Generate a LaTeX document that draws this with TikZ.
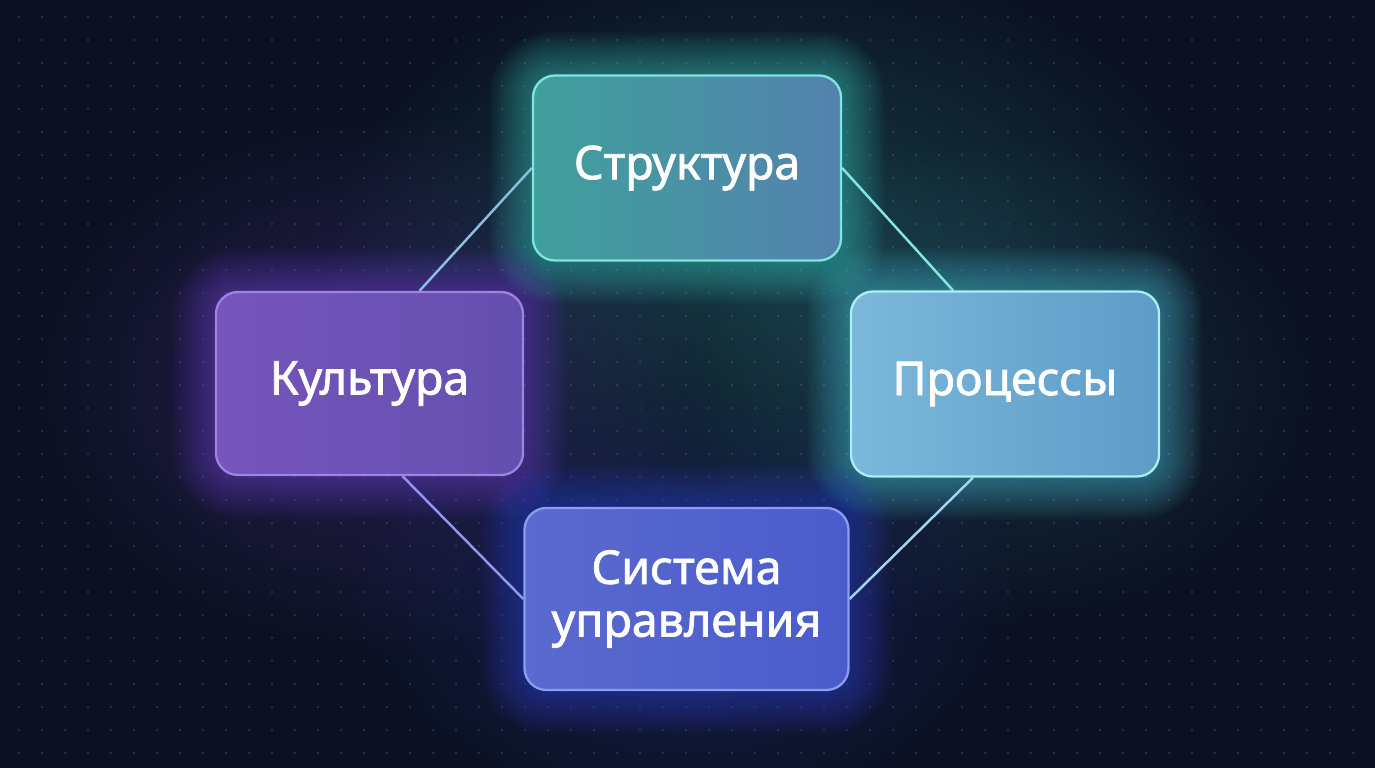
\documentclass[tikz,border=0pt]{standalone}
\usepackage{fontspec}
\setmainfont{Noto Sans}
\newfontfamily\lblfont{Noto Sans}[FakeBold=1.6]
\usetikzlibrary{positioning,calc,fadings}
\definecolor{bg}{HTML}{0B1120}
\definecolor{dotc}{HTML}{2A3A56}
\definecolor{strL}{HTML}{3FA09C}\definecolor{strR}{HTML}{5482AE}\definecolor{strB}{HTML}{80E4E0}\definecolor{strG}{HTML}{3ED8CC}
\definecolor{kultL}{HTML}{7654BC}\definecolor{kultR}{HTML}{6350AE}\definecolor{kultB}{HTML}{A082E4}\definecolor{kultG}{HTML}{7A48E0}
\definecolor{procL}{HTML}{7CB8DA}\definecolor{procR}{HTML}{5E9CC8}\definecolor{procB}{HTML}{ACEEF6}\definecolor{procG}{HTML}{58D0E8}
\definecolor{sysL}{HTML}{5A6ACE}\definecolor{sysR}{HTML}{4A5CCC}\definecolor{sysB}{HTML}{8C9CEE}\definecolor{sysG}{HTML}{3848E0}
\tikzfading[name=glowfade, inner color=transparent!0, outer color=transparent!100]
\pgfdeclarelayer{back}\pgfdeclarelayer{glow}
\pgfsetlayers{back,glow,main}
\begin{document}
\begin{tikzpicture}[
  box/.style={rounded corners=0.44cm, minimum width=6.16cm, minimum height=3.7cm, line width=1.3pt,
    text=white, align=center, font=\lblfont\fontsize{26.5}{30}\selectfont},
  link/.style={line width=1.4pt}]
\useasboundingbox (0,0) rectangle (27.5,15.36);
\node[box, draw=strB, left color=strL, right color=strR] (str) at (13.74,12.0) {Структура};
\node[box, draw=kultB, left color=kultL, right color=kultR, minimum width=6.14cm, minimum height=3.66cm] (kult) at (7.39,7.69) {Культура};
\node[box, draw=procB, left color=procL, right color=procR] (proc) at (20.1,7.68) {Процессы};
\node[box, draw=sysB, left color=sysL, right color=sysR, minimum width=6.48cm, minimum height=3.64cm] (sys) at (13.73,3.38) {Система\\управления};
\begin{pgfonlayer}{back}
  \fill[bg] (0,0) rectangle (27.5,15.36);
  \foreach \x in {0,...,59}
    \foreach \y in {0,...,32}
      \fill[dotc] (0.38+\x*0.46, 0.3+\y*0.46) circle (0.022);
  \fill[strG, opacity=0.22, path fading=glowfade] (15.5,10.5) ellipse (9 and 6);
  \fill[kultG, opacity=0.25, path fading=glowfade] (7.4,7.7) ellipse (7 and 5.5);
  \fill[sysG, opacity=0.25, path fading=glowfade] (13.7,3.2) ellipse (7 and 4.5);
  \fill[procG, opacity=0.15, path fading=glowfade] (20.1,7.7) ellipse (6.5 and 5);
\end{pgfonlayer}
\begin{pgfonlayer}{glow}
  \foreach \n/\c in {str/strG, kult/kultG, proc/procG, sys/sysG}
    \foreach \r in {0.05,0.1,...,0.9} {
      \pgfmathsetmacro\rc{0.44+\r}
      \fill[\c, opacity=0.03, rounded corners=\rc cm] ($(\n.south west)+(-\r,-\r)$) rectangle ($(\n.north east)+(\r,\r)$);
    }
  \coordinate (kt) at ($(kult.north)+(1.0,0)$);
  \coordinate (kb) at ($(kult.south)+(0.66,0)$);
  \coordinate (pt) at ($(proc.north)+(-1.04,0)$);
  \coordinate (pb) at ($(proc.south)+(-0.64,0)$);
  \draw[link, color=strB!60!kultB] (str.west) -- (kt);
  \draw[link, color=strB!90!procB] (str.east) -- (pt);
  \draw[link, color=sysB!80!kultB] (kb) -- (sys.west);
  \draw[link, color=procB!70!sysB] (pb) -- (sys.east);
\end{pgfonlayer}
\end{tikzpicture}
\end{document}
